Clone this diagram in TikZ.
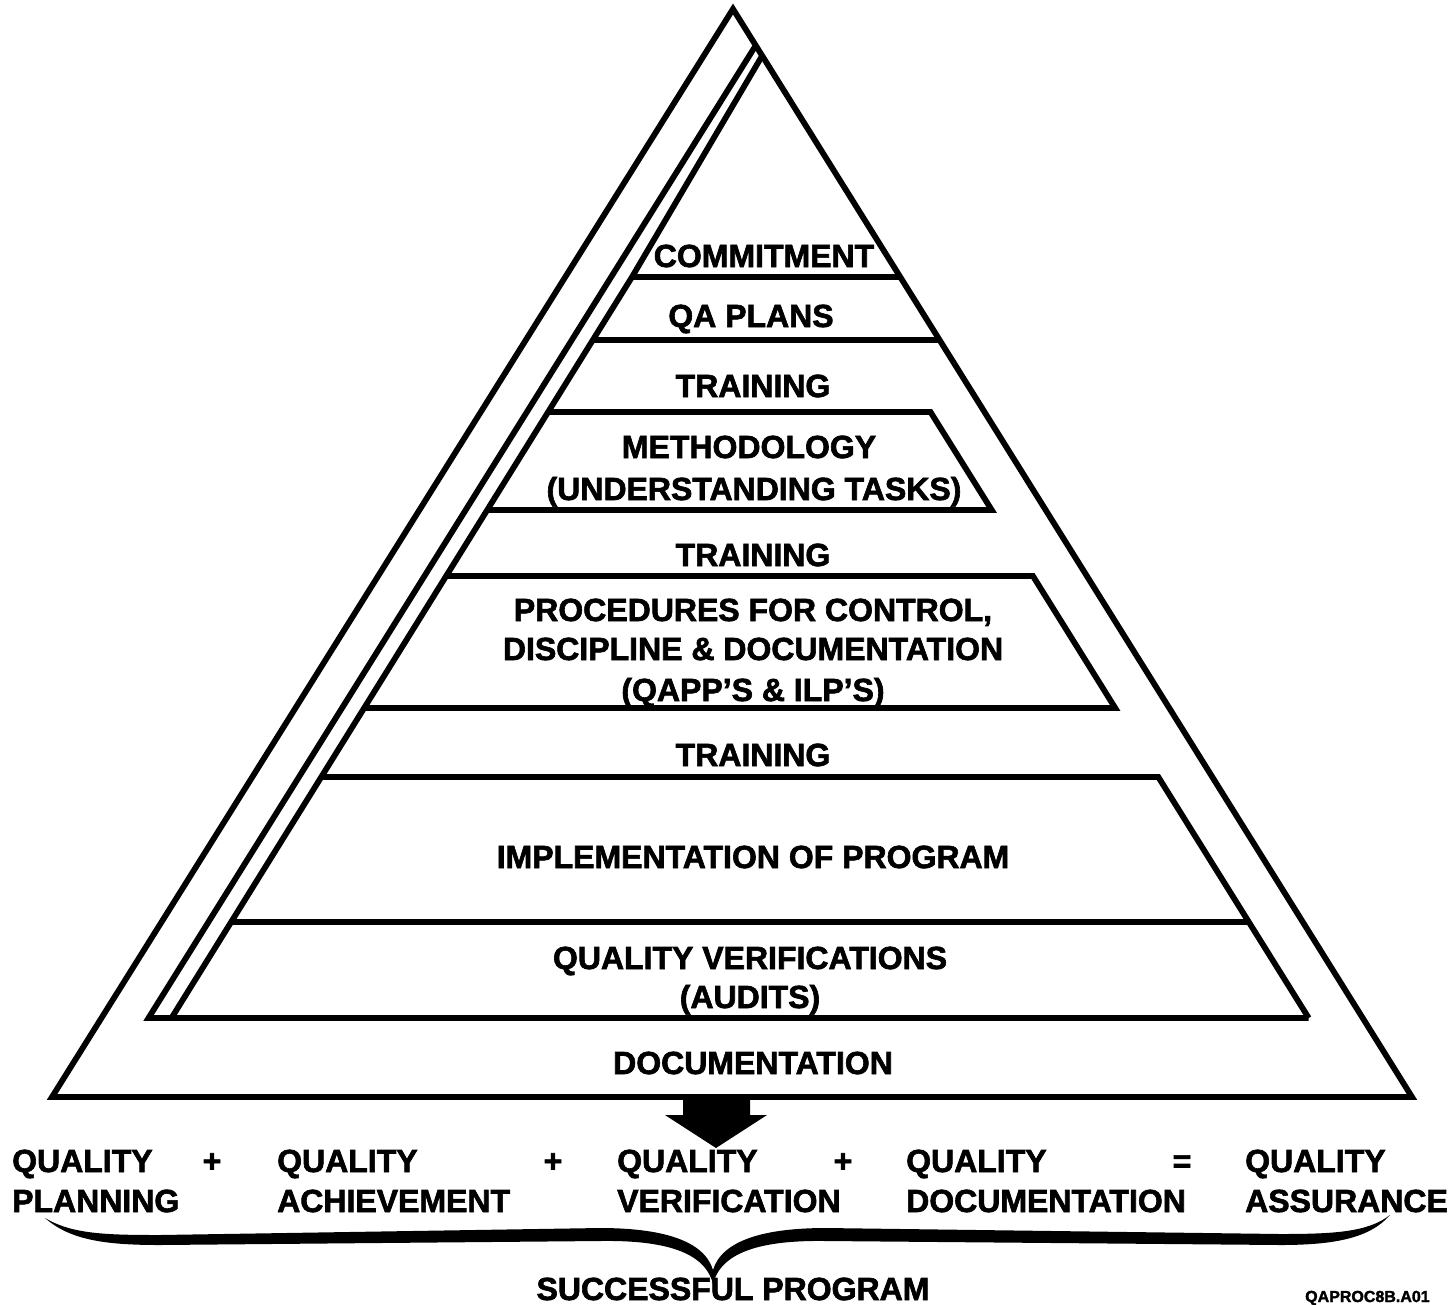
\documentclass[tikz,border=0pt]{standalone}
\usepackage{fontspec}
\setmainfont{Liberation Sans}
\newfontfamily\hb{Liberation Sans Bold}[FakeBold=2]
\begin{document}
\begin{tikzpicture}[x=1pt,y=-1pt,
  ln/.style={line width=5.8pt, line join=miter, line cap=butt},
  lbl/.style={anchor=base, inner sep=0pt, font=\fontsize{32}{40}\selectfont\hb},
  lft/.style={anchor=base west, inner sep=0pt, font=\fontsize{32}{40}\selectfont\hb},
]
\useasboundingbox (0,0) rectangle (1450,1304);

% outer triangle
\coordinate (apex) at (733,9);
\coordinate (bl) at (52,1097);
\coordinate (br) at (1412,1097);
\draw[ln] (apex) -- (bl) -- (br) -- cycle;

% band lines on the left
\coordinate (mtop) at (756,45);
\coordinate (mbot) at (148.5,1018);
\coordinate (itop) at (762,56);
\coordinate (ikink) at (632,277);
\coordinate (ibot) at (171.5,1018);
\coordinate (rbot) at (1308.7,1018);
\draw[ln] (mtop) -- (mbot) -- (rbot);
\draw[ln] (itop) -- (ikink) -- (ibot);

% QA plans
\draw[ln] (ikink) -- (900.3,277);
\draw[ln] (592.9,340) -- (939.6,340);
% methodology box
\draw[ln] (548.1,412) -- (930.5,412) -- (991.7,510) -- (487.2,510);
% procedures box
\draw[ln] (446.2,576) -- (1032.9,576) -- (1115.2,708) -- (364.2,708);
% implementation + verification boxes
\draw[ln] (321.3,777) -- (1158.3,777) -- (rbot);
\draw[ln] (231.2,922) -- (1248.8,922);

% big arrow
\fill (683,1097) -- (683,1115) -- (665,1115) -- (716,1148) -- (767,1115) -- (750,1115) -- (750,1097) -- cycle;

% brace
\fill (45,1218) .. controls (70,1240) and (105,1245) .. (160,1245)
 -- (600,1241) .. controls (665,1240) and (705,1252) .. (713,1284)
 .. controls (721,1252) and (761,1240) .. (826,1241)
 -- (1280,1245) .. controls (1335,1245) and (1370,1238) .. (1390,1215)
 .. controls (1368,1232) and (1335,1234) .. (1280,1234)
 -- (826,1228) .. controls (765,1228) and (722,1240) .. (713,1270)
 .. controls (704,1240) and (661,1228) .. (600,1228)
 -- (160,1235) .. controls (105,1235) and (72,1234) .. (45,1218) -- cycle;

% pyramid labels
\node[lbl] (commit) at (764,267) {COMMITMENT};
\node[lbl] (qaplans) at (751,327) {QA PLANS};
\node[lbl] (train1) at (753,397) {TRAINING};
\node[lbl] (meth) at (749,458) {METHODOLOGY};
\node[lbl] (under) at (754,500) {(UNDERSTANDING TASKS)};
\node[lbl] (train2) at (753,566) {TRAINING};
\node[lbl] (proc1) at (753,621) {PROCEDURES FOR CONTROL,};
\node[lbl] (proc2) at (753,660) {DISCIPLINE \& DOCUMENTATION};
\node[lbl] (proc3) at (753,701) {(QAPP’S \& ILP’S)};
\node[lbl] (train3) at (753,766) {TRAINING};
\node[lbl] (impl) at (753,868) {IMPLEMENTATION OF PROGRAM};
\node[lbl] (qv1) at (750,969) {QUALITY VERIFICATIONS};
\node[lbl] (qv2) at (750,1008) {(AUDITS)};
\node[lbl] (doc) at (753,1074) {DOCUMENTATION};

% equation row
\node[lft] (qp1) at (12,1172) {QUALITY};
\node[lft] (qp2) at (12,1212) {PLANNING};
\node[lbl] (plus1) at (212,1172) {+};
\node[lft] (qa1) at (277,1172) {QUALITY};
\node[lft] (qa2) at (277,1212) {ACHIEVEMENT};
\node[lbl] (plus2) at (553,1172) {+};
\node[lft] (qver1) at (617,1172) {QUALITY};
\node[lft] (qver2) at (617,1212) {VERIFICATION};
\node[lbl] (plus3) at (843,1172) {+};
\node[lft] (qd1) at (906,1172) {QUALITY};
\node[lft] (qd2) at (906,1212) {DOCUMENTATION};
\node[lbl] (eq) at (1182,1172) {=};
\node[lft] (qas1) at (1245,1172) {QUALITY};
\node[lft] (qas2) at (1245,1212) {ASSURANCE};
\node[lbl] (succ) at (733,1300) {SUCCESSFUL PROGRAM};
\node[lft, font=\fontsize{16}{20}\selectfont\hb] (fig) at (1305,1302) {QAPROC8B.A01};
\end{tikzpicture}
\end{document}
